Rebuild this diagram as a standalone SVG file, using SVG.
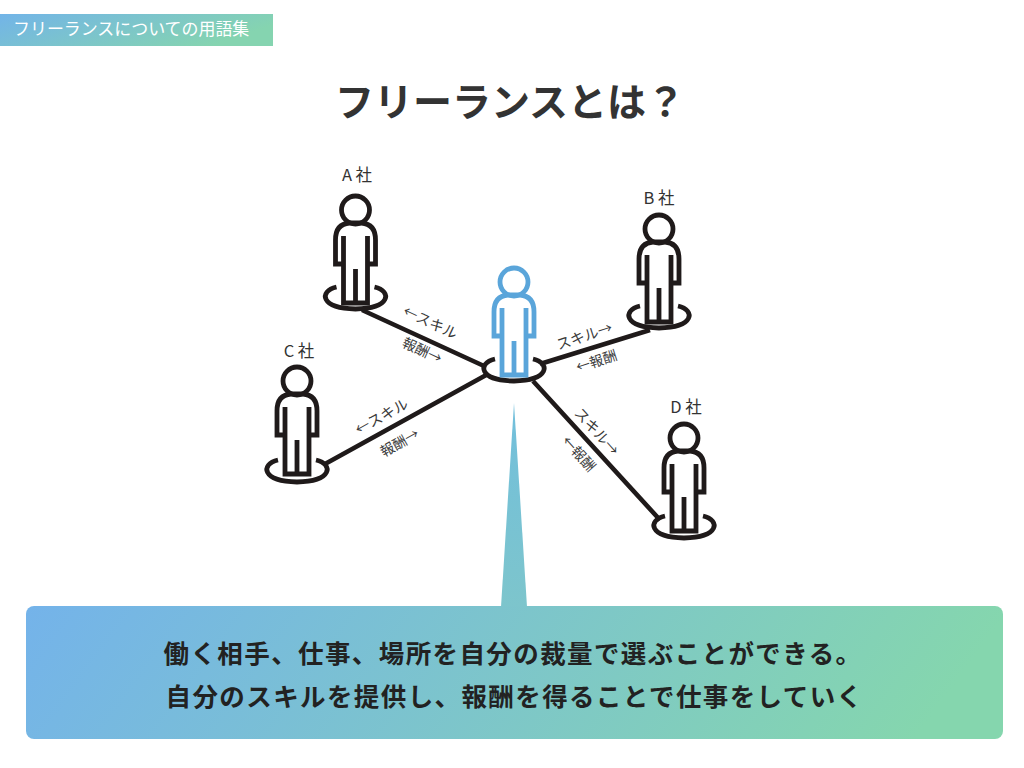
<svg xmlns="http://www.w3.org/2000/svg" width="1024" height="768" viewBox="0 0 1024 768">
<style>
text{font-family:"Noto Sans CJK JP","Noto Sans",sans-serif}
.lbl{font-size:16.5px;fill:#333;text-anchor:middle;font-weight:400}
.sm{font-size:14px;fill:#3a3a3a;text-anchor:middle;font-weight:400}
.co{font-size:14.5px;fill:#3a3a3a;text-anchor:middle;font-weight:400}
.line{stroke:#1f1a1a;stroke-width:4.6;fill:none}
.p{fill:none;stroke:#1f1a1a;stroke-width:4.8}
.e{fill:none;stroke:#1f1a1a;stroke-width:4.8}
.b{fill:none;stroke:#5aa5da;stroke-width:4.8}
.big{font-size:25.5px;font-weight:700;fill:#222;text-anchor:middle;letter-spacing:1.4px}
</style>
<defs>
<linearGradient id="g" x1="0" y1="0" x2="1" y2="0.1"><stop offset="0" stop-color="#74b3ea"/><stop offset="1" stop-color="#85d6ae"/></linearGradient>
<linearGradient id="gb" x1="0" y1="0" x2="1" y2="0.35"><stop offset="0" stop-color="#72b4e8"/><stop offset="1" stop-color="#85d4b0"/></linearGradient>
<linearGradient id="gt" x1="0" y1="0" x2="0" y2="1"><stop offset="0" stop-color="#72bfdc"/><stop offset="1" stop-color="#7dc5cc"/></linearGradient>
<g id="person">
<circle class="p" cx="0" cy="0" r="14"/>
<path class="p" d="M-12,26V93H12V26M0,59V93M-12,54H-20V30Q-20,14-6,13H6Q20,14 20,30V54H12"/>
</g>
<path id="base" class="e" d="M-19,-11C-37,-7 -35,11 0,11C35,11 37,-7 19,-11"/>
</defs>
<g id="banner"><rect x="0" y="14" width="273" height="32" fill="url(#gb)"/><text x="13" y="35" font-size="16.95" fill="#fff">フリーランスについての用語集</text></g>
<text id="title" x="510" y="116" font-size="39" font-weight="700" fill="#333" text-anchor="middle">フリーランスとは？</text>
<g id="connectors">
<path class="line" d="M362,310L484,366M540,364L650,330M325,464L488,374M533,381L660,520"/>
</g>
<g id="node-a"><use href="#base" x="355.5" y="298"/><use href="#person" x="355.5" y="210"/><text class="lbl" x="357" y="181">A 社</text></g>
<g id="node-b"><use href="#base" x="659" y="317"/><use href="#person" x="659" y="229"/><text class="lbl" x="659" y="204">B 社</text></g>
<g id="node-c"><use href="#base" x="297" y="471"/><use href="#person" x="297" y="381"/><text class="lbl" x="299" y="357">C 社</text></g>
<g id="node-d"><use href="#base" x="684" y="527"/><use href="#person" x="684" y="438"/><text class="lbl" x="686" y="413">D 社</text></g>
<g id="node-center"><use href="#base" x="514" y="370"/><circle class="b" cx="514" cy="282" r="14"/><path class="b" d="M502,308V375H526V308M514,341V375M502,336H494V312Q494,296 508,295H520Q534,296 534,312V336H526"/></g>
<g id="labels">
<text class="co" transform="translate(428,327) rotate(25)">←スキル</text>
<text class="sm" transform="translate(420,355) rotate(25)">報酬→</text>
<text class="co" transform="translate(586,341) rotate(-18)">スキル→</text>
<text class="sm" transform="translate(598,366) rotate(-18)">←報酬</text>
<text class="co" transform="translate(384,421) rotate(-29)">←スキル</text>
<text class="sm" transform="translate(402,447) rotate(-29)">報酬→</text>
<text class="co" transform="translate(593,435) rotate(48)">スキル→</text>
<text class="sm" transform="translate(575,457) rotate(48)">←報酬</text>
</g>
<g id="callout">
<polygon points="514,403 501,607 527,607" fill="url(#gt)"/>
<rect x="26" y="606" width="977" height="133" rx="8" fill="url(#g)"/>
<text class="big" x="513" y="663">働く相手、仕事、場所を自分の裁量で選ぶことができる。</text>
<text class="big" x="514.500" y="706">自分のスキルを提供し、報酬を得ることで仕事をしていく</text>
</g>
</svg>
